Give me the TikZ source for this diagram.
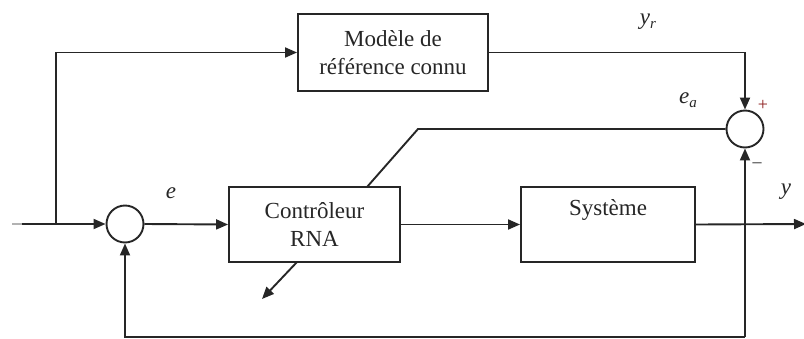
\documentclass[tikz,border=0pt]{standalone}
\usepackage{fontspec}
\setmainfont{Liberation Serif}
\usetikzlibrary{arrows.meta}
\definecolor{ink}{HTML}{262626}
\definecolor{plusred}{HTML}{8A1A1A}
\tikzset{
  wire/.style={draw=ink, line width=1.9pt},
  arr/.style={wire, -{Triangle[length=12pt,width=10pt]}},
  blockbox/.style={draw=ink, line width=1.9pt, rectangle, align=center,
    font=\fontsize{23}{28}\selectfont, text=ink, inner sep=0pt},
  sumnode/.style={draw=ink, line width=1.9pt, circle, minimum size=37pt, inner sep=0pt},
  lbl/.style={font=\fontsize{23}{26}\selectfont\itshape, text=ink, inner sep=0pt},
}
\newcommand{\subidx}[1]{\raisebox{-4pt}{\fontsize{15}{15}\selectfont\itshape #1}}
\begin{document}
\begin{tikzpicture}[x=1pt,y=-1pt]
\useasboundingbox (0,0) rectangle (804,338);

% blocks
\node[blockbox, minimum width=190pt, minimum height=77pt] (mod) at (393,52.5) {Modèle de\\référence connu};
\node[blockbox, minimum width=171pt, minimum height=75pt] (ctrl) at (314.5,224.5) {Contrôleur\\RNA};
\node[blockbox, minimum width=174pt, minimum height=75pt] (sys) at (608,224.5) {Système\\[-2pt]\strut};

% summing junctions
\node[sumnode] (s1) at (125,224) {};
\node[sumnode] (s2) at (745,129) {};

% helper points
\coordinate (in) at (12,224);
\coordinate (split) at (56,224);
\coordinate (out) at (806,224);
\coordinate (bot) at (745,337);
\coordinate (eabend) at (418,129);
\coordinate (eaend) at (367,187);
\coordinate (adjstart) at (297,262);
\coordinate (adjend) at (262,299);

% forward path
\draw[wire, draw=gray!60] (in) -- (22,224);
\draw[arr] (22,224) -- (s1.west);
\draw[arr] (split) |- (mod.west);
\draw[arr] (s1.east) -- (ctrl.west);
\draw[arr] (ctrl.east) -- (sys.west);
\draw[arr] (sys.east) -- (out);

% reference output and model error
\draw[arr] (mod.east) -| (s2.north);
\draw[wire] (s2.west) -- (eabend) -- (eaend);

% feedback paths
\draw[arr] (bot) -- (s2.south);
\draw[arr] (bot) -| (s1.south);

% weight adaptation arrow
\draw[arr] (adjstart) -- (adjend);

% labels
\node[lbl] (le) at (171,193) {e};
\node[lbl] (lyr) at (648,22) {y\subidx{r}};
\node[lbl] (lea) at (688,100) {e\subidx{a}};
\node[lbl] (ly) at (786,192) {y};
\node[font=\fontsize{18}{18}\selectfont, text=plusred, inner sep=0pt] (plus) at (763,105) {+};
\node[font=\fontsize{18}{18}\selectfont, text=ink, inner sep=0pt] (minus) at (757,165) {–};
\end{tikzpicture}
\end{document}
